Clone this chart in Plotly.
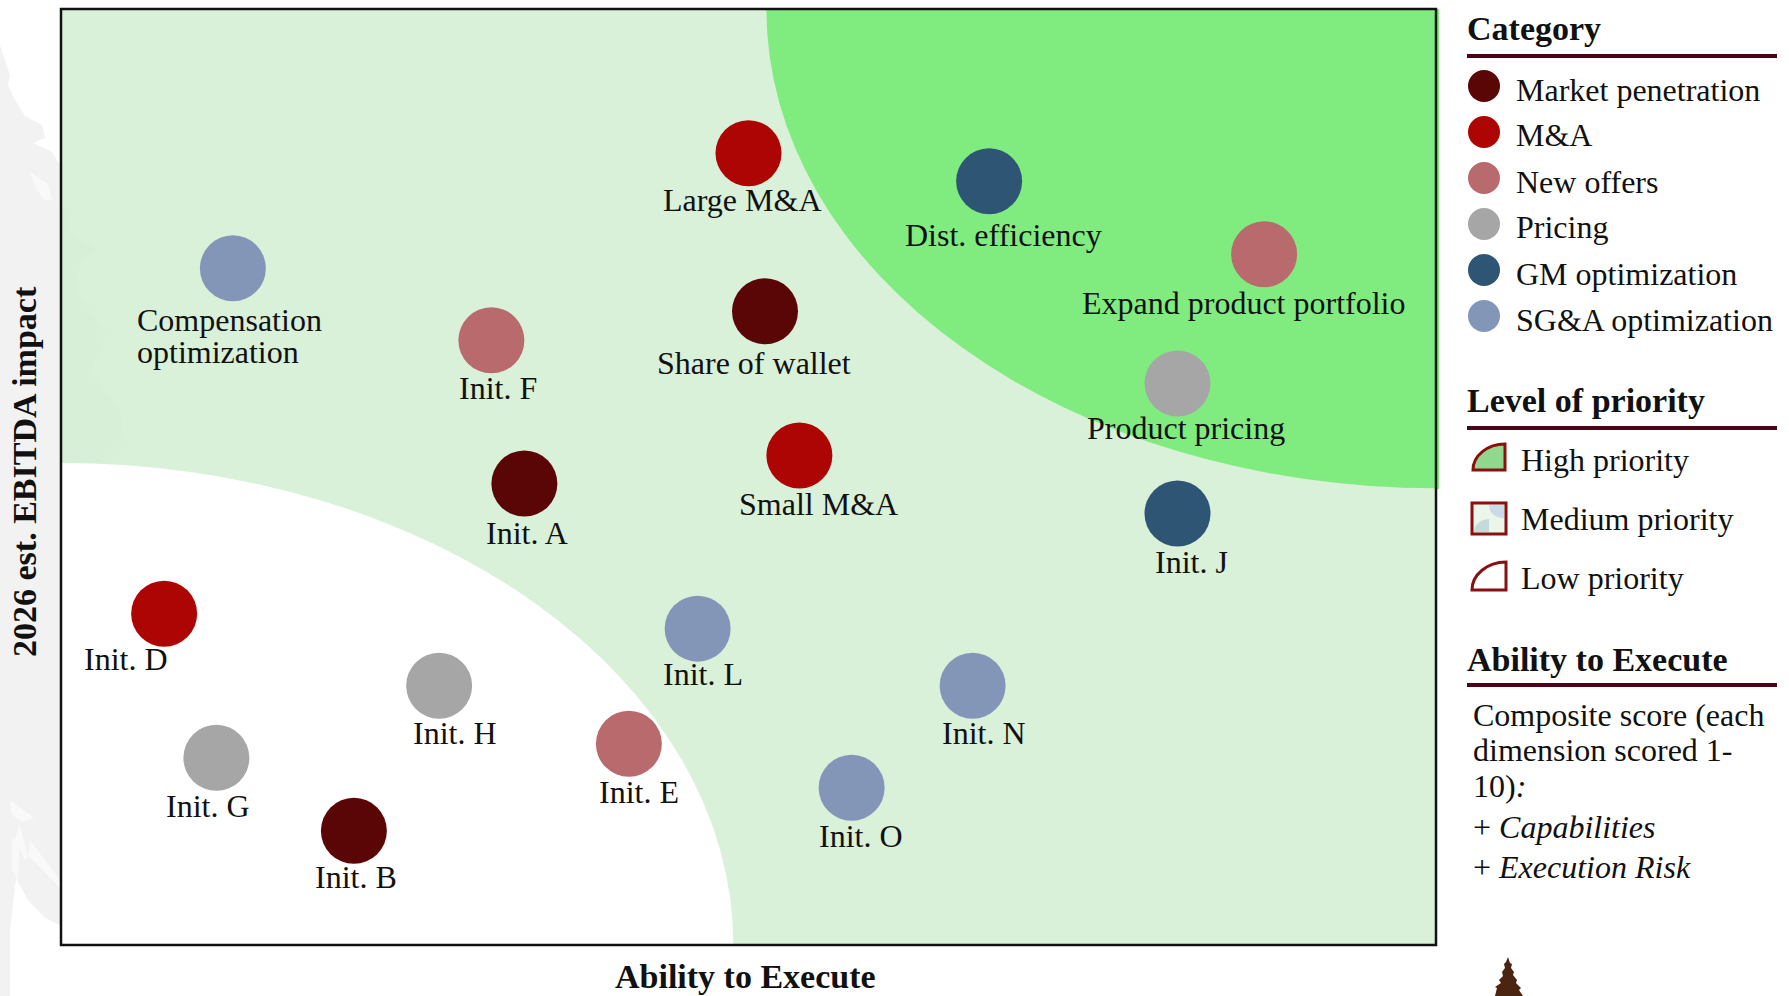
import plotly.graph_objects as go

# Initiatives: name, category, ability to execute (0-100), EBITDA impact (0-100)
names = ["Market penetration", "M&A", "New offers", "Pricing", "GM optimization", "SG&A optimization"]
colors = ["#5a0606", "#ad0404", "#b86a6d", "#a6a6a6", "#2f5575", "#8496b8"]

initiatives = {
    "Market penetration": (["Share of wallet", "Init. A", "Init. B"], [51.2, 33.7, 21.3], [67.7, 49.3, 12.2]),
    "M&A": (["Large M&A", "Small M&A", "Init. D"], [50.0, 53.7, 7.5], [84.6, 52.3, 35.4]),
    "New offers": (["Expand product portfolio", "Init. F", "Init. E"], [87.5, 31.3, 41.3], [73.8, 64.6, 21.5]),
    "Pricing": (["Product pricing", "Init. H", "Init. G"], [81.2, 27.5, 11.3], [60.0, 27.7, 20.0]),
    "GM optimization": (["Dist. efficiency", "Init. J"], [67.5, 81.2], [81.6, 46.1]),
    "SG&A optimization": (["Compensation optimization", "Init. L", "Init. N", "Init. O"],
                          [12.5, 46.3, 66.3, 57.5], [72.3, 33.8, 27.7, 16.8]),
}

# Label offset from each marker centre, in pixels (right, down)
label_offsets = {
    "Large M&A": (-7, 47), "Dist. efficiency": (14, 54), "Expand product portfolio": (-21, 49),
    "Init. F": (7, 48), "Share of wallet": (-11, 52),
    "Product pricing": (8, 45), "Small M&A": (19, 49), "Init. A": (3, 49), "Init. J": (14, 48),
    "Init. D": (-38, 45), "Init. L": (5, 45), "Init. H": (16, 47), "Init. N": (11, 47),
    "Init. E": (10, 48), "Init. G": (-8, 48), "Init. O": (9, 48), "Init. B": (2, 46),
}

# The one two-line label is set left-aligned, line by line
wrapped_labels = {"Compensation optimization": [("Compensation", -98, 52), ("optimization", -98, 84)]}

# Priority zones: quarter ellipses anchored in opposite corners (axis units)
high_rx, high_ry = 48.7, 51.2
low_rx, low_ry = 48.9, 51.5

W, H = 1789, 996
FONT = "Liberation Serif"
TEXT_SIZE = 32
LABEL_SIZE = 32
HEAD_SIZE = 34
X0, X1, Y0, Y1 = 61, 1436, 9, 945


# Page pixels to paper coordinates, which are measured on the plot area
def px(x):
    return (x - X0) / (X1 - X0)


def py(y):
    return (Y1 - y) / (Y1 - Y0)


def pth(points):
    return "M " + " L ".join(f"{px(x):.5f} {py(y):.5f}" for x, y in points) + " Z"


def rect(x0, y0, x1, y1, fill, line=None, width=0, layer="above"):
    return dict(type="rect", xref="paper", yref="paper", x0=px(x0), x1=px(x1), y0=py(y0), y1=py(y1),
                fillcolor=fill, line=dict(color=line or fill, width=width), layer=layer)


def poly(points, fill, layer="below"):
    return dict(type="path", xref="paper", yref="paper", path=pth(points), fillcolor=fill,
                line=dict(width=0), layer=layer)


def note(x, y, text, size=TEXT_SIZE, anchor="left", angle=0):
    return dict(xref="paper", yref="paper", x=px(x), y=py(y), text=text, showarrow=False,
                xanchor=anchor, yanchor="middle", align="left", textangle=angle,
                font=dict(family=FONT, size=size, color="#111111"))


def quarter(x0, y0, x1, y1, fill, line="#8a1010", width=3):
    # Quarter-ellipse icon bulging to the upper left
    k = 0.55
    w, h = x1 - x0, y1 - y0
    path = (f"M {px(x0):.5f} {py(y1):.5f} C {px(x0):.5f} {py(y1 - k * h):.5f} "
            f"{px(x1 - k * w):.5f} {py(y0):.5f} {px(x1):.5f} {py(y0):.5f} "
            f"L {px(x1):.5f} {py(y1):.5f} Z")
    return dict(type="path", xref="paper", yref="paper", path=path, fillcolor=fill,
                line=dict(color=line, width=width), layer="above")


fig = go.Figure()
annotations = []


def point_label(text, x, y, dx, dy, anchor="center"):
    return dict(x=x, y=y, xref="x", yref="y", text=text, showarrow=False, xshift=dx, yshift=-dy,
                xanchor=anchor, yanchor="middle", font=dict(family=FONT, size=LABEL_SIZE, color="#111111"))


for name, color in zip(names, colors):
    labels, xs, ys = initiatives[name]
    fig.add_trace(go.Scatter(x=xs, y=ys, mode="markers", name=name, text=labels, hoverinfo="text",
                             marker=dict(size=66, color=color, line=dict(width=0))))
    for label, x, y in zip(labels, xs, ys):
        if label in wrapped_labels:
            for line_text, dx, dy in wrapped_labels[label]:
                annotations.append(point_label(line_text, x, y, dx, dy, "left"))
        else:
            dx, dy = label_offsets[label]
            annotations.append(point_label(label, x, y, dx, dy))

shapes = []

# Pale tree silhouette in the left margin
shapes.append(poly([(0, 45), (5, 60), (10, 75), (8, 85), (15, 100), (25, 116), (42, 125), (45, 138), (33, 143),
                    (52, 152), (60, 165), (60, 925), (45, 918), (28, 900), (16, 878), (10, 930), (10, 996),
                    (0, 996)], "#f2f2f2"))
for streak in [[(30, 172), (48, 184), (52, 200), (44, 200), (36, 188)],
               [(10, 800), (34, 818), (22, 822), (12, 815)],
               [(12, 840), (20, 835), (18, 880), (12, 870)],
               [(30, 840), (60, 880), (60, 888), (28, 855)],
               [(20, 825), (28, 858), (24, 860), (16, 835)]]:
    shapes.append(poly(streak, "#f9f9f9"))

# Faint continuation of the silhouette inside the plot
shapes.append(poly([(61, 205), (72, 212), (68, 232), (98, 250), (80, 262), (76, 290), (106, 335),
                    (90, 372), (120, 410), (124, 440), (100, 464), (61, 463)], "#d7eed7"))

# Priority zones
shapes.append(dict(type="circle", xref="x", yref="y", x0=100 - high_rx, x1=100 + high_rx,
                   y0=100 - high_ry, y1=100 + high_ry, fillcolor="#80ec80", line=dict(width=0), layer="below"))
shapes.append(dict(type="circle", xref="x", yref="y", x0=-low_rx, x1=low_rx, y0=-low_ry, y1=low_ry,
                   fillcolor="#ffffff", line=dict(width=0), layer="below"))
# The high-priority fill runs slightly past the frame
shapes.append(rect(X1, 9, 1439, 489, "#80ec80", layer="below"))
# Thin strip of green under the low-priority zone
shapes.append(rect(61, 942.5, 740, 945, "#d9f0d9", layer="below"))

# Plot frame
shapes.append(rect(X0, Y0, X1, Y1, "rgba(0,0,0,0)", "#111111", 2.5))

# Panel headings and rules
for heading, y_text, y_rule in [("Category", 28, 56), ("Level of priority", 401, 428), ("Ability to Execute", 659, 685)]:
    annotations.append(note(1465, y_text, f"<b>{heading}</b>", HEAD_SIZE))
    shapes.append(rect(1467, y_rule - 2, 1777, y_rule + 2, "#4a0519"))

# Axis titles
annotations.append(note(745, 976, "<b>Ability to Execute</b>", HEAD_SIZE, "center"))
annotations.append(note(24, 472, "<b>2026 est. EBITDA impact</b>", HEAD_SIZE, "center", -90))

# Category key
for i, (name, color) in enumerate(zip(names, colors)):
    cy = 86 + 46 * i
    shapes.append(dict(type="circle", xref="paper", yref="paper", x0=px(1468), x1=px(1500), y0=py(cy - 16),
                       y1=py(cy + 16), fillcolor=color, line=dict(width=0), layer="above"))
    annotations.append(note(1514, cy + 3.5, name))

# Priority key
shapes.append(quarter(1473, 444, 1505, 470, "#90d98c"))
annotations.append(note(1519, 460, "High priority"))
shapes.append(rect(1472, 503, 1506, 534, "#e9f6e9", "#8a1010", 3))
shapes.append(dict(type="path", xref="paper", yref="paper", layer="above", fillcolor="#c9dbe9", line=dict(width=0),
                   path=f"M {px(1489):.5f} {py(505):.5f} L {px(1504):.5f} {py(505):.5f} L {px(1504):.5f} {py(518):.5f} "
                        f"C {px(1497):.5f} {py(518):.5f} {px(1489):.5f} {py(514):.5f} {px(1489):.5f} {py(505):.5f} Z"))
shapes.append(dict(type="path", xref="paper", yref="paper", layer="above", fillcolor="#c3dcd9", line=dict(width=0),
                   path=f"M {px(1474):.5f} {py(532):.5f} C {px(1474):.5f} {py(525):.5f} {px(1481):.5f} {py(519):.5f} "
                        f"{px(1489):.5f} {py(519):.5f} L {px(1489):.5f} {py(532):.5f} Z"))
annotations.append(note(1519, 519, "Medium priority"))
shapes.append(quarter(1472, 562, 1506, 590, "#ffffff"))
annotations.append(note(1519, 578, "Low priority"))

# Score description
for y, text in [(715, "Composite score (each"), (750, "dimension scored 1-"), (786, "10)<i>:</i>"),
                (827, "+ <i>Capabilities</i>"), (867, "+ <i>Execution Risk</i>")]:
    annotations.append(note(1471, y, text))

# Tree mark in the lower corner
shapes.append(poly([(1508, 957), (1510, 963), (1512, 964), (1511, 968), (1514, 972), (1513, 975), (1517, 980),
                    (1516, 983), (1521, 988), (1519, 990), (1523, 996), (1495, 996), (1497, 988), (1495, 987),
                    (1501, 983), (1499, 980), (1503, 976), (1502, 972), (1505, 968), (1504, 964), (1506, 962)],
                   "#4a2511", layer="above"))

fig.update_layout(
    width=W, height=H, autosize=False, showlegend=False,
    margin=dict(l=X0, r=W - X1, t=Y0, b=H - Y1),
    paper_bgcolor="#ffffff", plot_bgcolor="#d9f0d9",
    shapes=shapes, annotations=annotations,
    font=dict(family=FONT, size=TEXT_SIZE, color="#111111"),
    xaxis=dict(range=[0, 100], showgrid=False, zeroline=False, showticklabels=False, ticks=""),
    yaxis=dict(range=[0, 100], showgrid=False, zeroline=False, showticklabels=False, ticks=""),
)

fig.write_html("out.html", config={"displayModeBar": False})
